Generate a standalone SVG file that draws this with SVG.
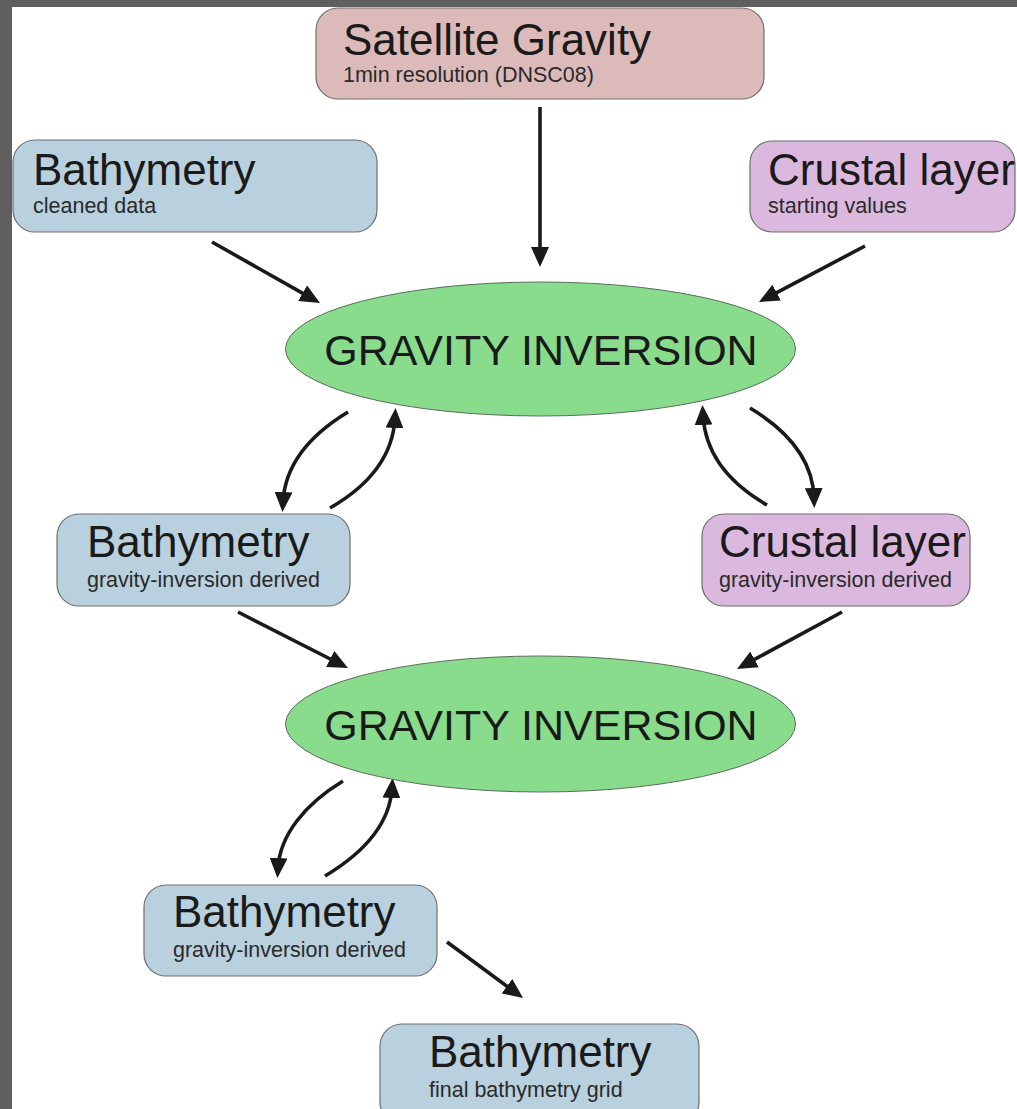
<svg xmlns="http://www.w3.org/2000/svg" width="1017" height="1109" viewBox="0 0 1017 1109">
<style>
.box{stroke:#6e6e6e;stroke-width:1.2}
.sat{fill:#dcbaba}
.bat{fill:#b9d1de}
.cru{fill:#dbb9de}
.ell{fill:#88dc8c;stroke:#5c6e5c;stroke-width:1}
.t{font-family:"Liberation Sans",Arial,sans-serif;fill:#1a1a1a}
.big{font-size:44px}
.sub{font-size:21.5px;fill:#2a2a2a}
.gi{font-size:43px;text-anchor:middle}
.arr{fill:none;stroke:#1a1a1a;stroke-width:3.6;marker-end:url(#ah)}
</style>
<defs>
<marker id="ah" markerUnits="userSpaceOnUse" markerWidth="20" markerHeight="18" refX="10" refY="9" orient="auto" viewBox="0 0 20 18">
<path d="M0,0 L20,9 L0,18 z" fill="#1a1a1a"/>
</marker>
</defs>
<rect x="0" y="0" width="1017" height="1109" fill="#5f5f5f"/>
<rect x="12" y="7" width="1005" height="1102" fill="#ffffff"/>

<g id="connectors">
<path class="arr" d="M540,107 L540,257"/>
<path class="arr" d="M212,242 L311.3,298.1"/>
<path class="arr" d="M865,246 L767.8,297.3"/>
<path class="arr" d="M348,412 C310,435 285,465 283,502"/>
<path class="arr" d="M330,508 C370,485 393,455 395,418"/>
<path class="arr" d="M767,505 C727,482 705,452 703,415"/>
<path class="arr" d="M750,408 C790,432 813,462 814,498"/>
<path class="arr" d="M238,612 L339.1,663.5"/>
<path class="arr" d="M842,612 L745.8,664.2"/>
<path class="arr" d="M343,781 C305,804 280,835 278,868"/>
<path class="arr" d="M325,876 C365,852 390,822 392,788"/>
<path class="arr" d="M447,942 L515,992.1"/>
</g>

<g id="satellite">
<rect class="box sat" x="316" y="8" width="448" height="91" rx="22"/>
<text class="t big" x="343" y="55">Satellite Gravity</text>
<text class="t sub" x="343" y="82">1min resolution (DNSC08)</text>
</g>

<g id="bathy-clean">
<rect class="box bat" x="13" y="140" width="364" height="92" rx="22"/>
<text class="t big" x="33" y="185">Bathymetry</text>
<text class="t sub" x="33" y="213">cleaned data</text>
</g>

<g id="crustal-start">
<rect class="box cru" x="750" y="141" width="265" height="91" rx="22"/>
<text class="t big" x="768" y="185">Crustal layer</text>
<text class="t sub" x="768" y="213">starting values</text>
</g>

<g id="inversion1">
<ellipse class="ell" cx="540.5" cy="349" rx="255" ry="67"/>
<text class="t gi" x="541" y="365">GRAVITY INVERSION</text>
</g>

<g id="bathy-derived1">
<rect class="box bat" x="57" y="514" width="293" height="92" rx="22"/>
<text class="t big" x="87" y="557">Bathymetry</text>
<text class="t sub" x="87" y="587">gravity-inversion derived</text>
</g>

<g id="crustal-derived">
<rect class="box cru" x="702" y="514" width="268" height="92" rx="22"/>
<text class="t big" x="719" y="557">Crustal layer</text>
<text class="t sub" x="719" y="587">gravity-inversion derived</text>
</g>

<g id="inversion2">
<ellipse class="ell" cx="540.5" cy="724" rx="255" ry="68"/>
<text class="t gi" x="541" y="740">GRAVITY INVERSION</text>
</g>

<g id="bathy-derived2">
<rect class="box bat" x="144" y="885" width="293" height="91" rx="22"/>
<text class="t big" x="173" y="927">Bathymetry</text>
<text class="t sub" x="173" y="957">gravity-inversion derived</text>
</g>

<g id="bathy-final">
<rect class="box bat" x="380" y="1024" width="319" height="100" rx="22"/>
<text class="t big" x="429" y="1067">Bathymetry</text>
<text class="t sub" x="429" y="1097">final bathymetry grid</text>
</g>
</svg>
